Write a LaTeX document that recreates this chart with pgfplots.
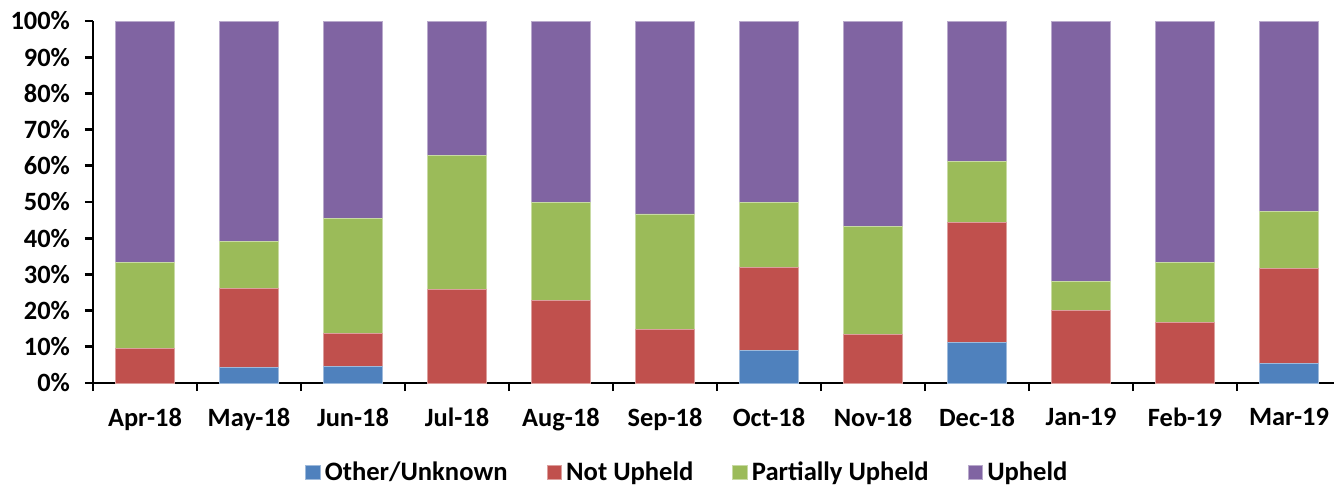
\documentclass[border=0pt]{standalone}
\usepackage{pgfplots}
\pgfplotsset{compat=1.18}
\usepackage{pgfplotstable}
\usepackage{fontspec}
\setmainfont{Carlito}
\definecolor{cblue}{HTML}{4F81BD}
\definecolor{cred}{HTML}{C0504D}
\definecolor{cgreen}{HTML}{9BBB59}
\definecolor{cpurple}{HTML}{8064A2}
\pgfplotstableread{
x other notup partial upheld
0 0 9.5 23.8 66.7
1 4.3 21.7 13.0 61.0
2 4.5 9.1 31.8 54.6
3 0 25.9 37.0 37.1
4 0 22.7 27.3 50.0
5 0 14.7 32.0 53.3
6 9.1 22.7 18.2 50.0
7 0 13.3 30.0 56.7
8 11.1 33.3 16.7 38.9
9 0 20.0 8.0 72.0
10 0 16.7 16.7 66.6
11 5.3 26.3 15.8 52.6
}\data
\begin{document}
\begin{tikzpicture}
\begin{axis}[
  scale only axis,
  width=624pt, height=181pt,
  ybar stacked,
  bar width=29.5pt,
  xmin=-0.5, xmax=11.5,
  ymin=0, ymax=100,
  axis x line*=bottom,
  axis y line*=left,
  axis line style={-, line width=1.4pt},
  tick style={black, line width=1.4pt},
  tick align=outside,
  major tick length=4pt,
  minor tick length=4pt,
  xtick={0,...,11},
  xticklabels={Apr-18,May-18,Jun-18,Jul-18,Aug-18,Sep-18,Oct-18,Nov-18,Dec-18,Jan-19,Feb-19,Mar-19},
  minor xtick={-0.5,0.5,...,11.5},
  major x tick style={draw=none},
  ytick={0,10,...,100},
  yticklabels={0\%,10\%,20\%,30\%,40\%,50\%,60\%,70\%,80\%,90\%,100\%},
  tick label style={font=\fontsize{13.2}{15}\selectfont\bfseries},
  xticklabel style={yshift=-5pt},
  yticklabel style={xshift=-4pt},
  legend style={font=\fontsize{13.3}{15}\selectfont\bfseries, draw=none, legend columns=-1,
    at={(0.477,-0.247)}, anchor=center, inner sep=1pt,
    /tikz/every even column/.append style={column sep=17.5pt}},
  legend image code/.code={\fill[#1] (0pt,-3.7pt) rectangle (7.4pt,3.7pt);},
]
\addplot[fill=cblue, draw=cblue!55!white, line width=0.4pt] table[x=x, y=other] {\data};
\addplot[fill=cred, draw=cred!55!white, line width=0.4pt] table[x=x, y=notup] {\data};
\addplot[fill=cgreen, draw=cgreen!55!white, line width=0.4pt] table[x=x, y=partial] {\data};
\addplot[fill=cpurple, draw=cpurple!55!white, line width=0.4pt] table[x=x, y=upheld] {\data};
\legend{Other/Unknown, Not Upheld, Partially Upheld, Upheld}
\end{axis}
\pgfresetboundingbox
\path ([xshift=-46.5pt,yshift=-52.5pt]current axis.south west) rectangle ([xshift=-3.5pt,yshift=10.5pt]current axis.north east);
\end{tikzpicture}
\end{document}
